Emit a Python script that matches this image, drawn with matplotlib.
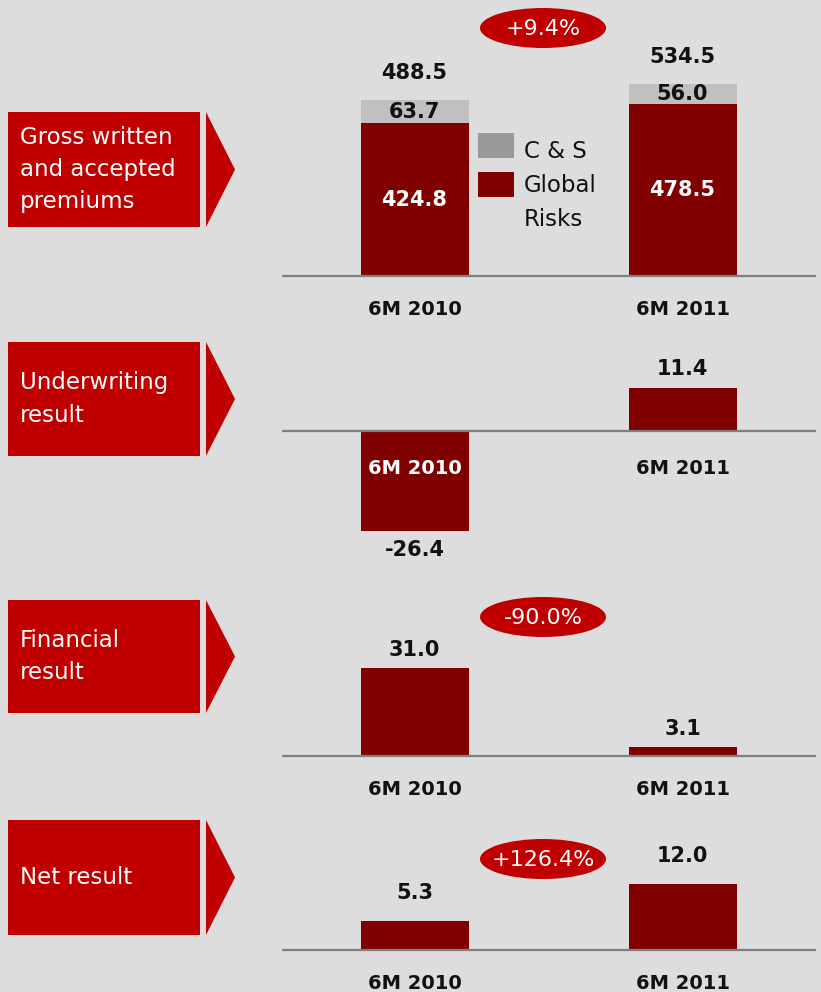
import matplotlib
matplotlib.use("Agg")
import matplotlib.pyplot as plt
from matplotlib.patches import Rectangle, Polygon, Ellipse

# data (EUR million)
periods = ["6M 2010", "6M 2011"]
global_risks = [424.8, 478.5]
c_and_s = [63.7, 56.0]
premiums_total = [488.5, 534.5]
underwriting = [-26.4, 11.4]
financial = [31.0, 3.1]
net_result = [5.3, 12.0]
changes = ["+9.4%", None, "-90.0%", "+126.4%"]
panel_titles = ["Gross written\nand accepted\npremiums", "Underwriting\nresult",
                "Financial\nresult", "Net result"]

BG = "#DDDDDD"
RED = "#C00000"
DARK = "#800000"
LIGHT = "#C0C0C0"
LEG_GREY = "#999999"
W, H = 821, 992

plt.rcParams['font.family'] = ['DejaVu Sans']
fig = plt.figure(figsize=(W / 100, H / 100), dpi=100, facecolor=BG)

# overlay for boxes and arrows, in pixel coords
ov = fig.add_axes([0, 0, 1, 1], zorder=5)
ov.set_xlim(0, W)
ov.set_ylim(H, 0)
ov.axis("off")
ov.patch.set_alpha(0)

boxes = [(112, 227), (342, 456), (600, 713), (820, 935)]
for (top, bot), title in zip(boxes, panel_titles):
    ov.add_patch(Rectangle((8, top), 192, bot - top, color=RED, lw=0))
    ov.add_patch(Polygon([(206, top), (235, (top + bot) / 2), (206, bot)],
                         closed=True, color=RED, lw=0))
    ov.text(20, (top + bot) / 2, title, color="white", fontsize=16.5,
            va="center", ha="left", linespacing=1.5)


def make_axes(top, bottom, baseline, scale):
    # pixel box -> figure fraction, data limits so baseline/scale match
    left, right = 282, 816
    ax = fig.add_axes([left / W, 1 - bottom / H, (right - left) / W, (bottom - top) / H])
    ax.set_ylim(-(bottom - baseline) / scale, (baseline - top) / scale)
    ax.set_xlim((left - 414.5) / 268, (right - 414.5) / 268)
    ax.axis("off")
    ax.patch.set_alpha(0)
    ax.axhline(0, color="#7F7F7F", lw=1.6, zorder=3)
    return ax


x = [0, 1]
bw = 108 / 268
lab = dict(fontsize=14, fontweight="bold", color="#111111", ha="center")
val = dict(fontsize=15, fontweight="bold", color="#111111", ha="center")

# panel 1: premiums
ax1 = make_axes(0, 330, 276, 0.36)
ax1.bar(x, global_risks, width=bw, color=DARK, zorder=2)
ax1.bar(x, c_and_s, bottom=global_risks, width=bw, color=LIGHT, zorder=2)
for i in x:
    ax1.text(i, global_risks[i] / 2, f"{global_risks[i]:.1f}", color="white",
             fontsize=15, fontweight="bold", ha="center", va="center")
    ax1.text(i, global_risks[i] + c_and_s[i] / 2, f"{c_and_s[i]:.1f}", color="#111111",
             fontsize=15, fontweight="bold", ha="center", va="center")
    ax1.annotate(f"{premiums_total[i]:.1f}", (i, premiums_total[i]), xytext=(0, 12),
                 textcoords="offset points", va="bottom", **val)
    ax1.annotate(periods[i], (i, 0), xytext=(0, -17), textcoords="offset points",
                 va="top", **lab)

# legend
ov.add_patch(Rectangle((478, 133), 36, 25, color=LEG_GREY, lw=0))
ov.add_patch(Rectangle((478, 172), 36, 25, color=DARK, lw=0))
ov.text(524, 152, "C & S", fontsize=16.5, va="center", color="#111111")
ov.text(524, 186, "Global", fontsize=16.5, va="center", color="#111111")
ov.text(524, 220, "Risks", fontsize=16.5, va="center", color="#111111")

# panel 2: underwriting
ax2 = make_axes(335, 590, 431, 3.8)
ax2.bar(x, underwriting, width=bw, color=DARK, zorder=2)
ax2.annotate(f"{underwriting[0]:.1f}", (0, underwriting[0]), xytext=(0, -6),
             textcoords="offset points", va="top", **val)
ax2.annotate(f"{underwriting[1]:.1f}", (1, underwriting[1]), xytext=(0, 6),
             textcoords="offset points", va="bottom", **val)
ax2.annotate(periods[0], (0, 0), xytext=(0, -20), textcoords="offset points",
             va="top", fontsize=14, fontweight="bold", color="white", ha="center")
ax2.annotate(periods[1], (1, 0), xytext=(0, -20), textcoords="offset points",
             va="top", **lab)

# panels 3 and 4
for vals, top, bot, base, sc, off in [(financial, 595, 815, 756, 2.84, 6),
                                      (net_result, 815, 992, 950, 5.5, 13)]:
    ax = make_axes(top, bot, base, sc)
    ax.bar(x, vals, width=bw, color=DARK, zorder=2)
    for i in x:
        ax.annotate(f"{vals[i]:.1f}", (i, vals[i]), xytext=(0, off),
                    textcoords="offset points", va="bottom", **val)
        ax.annotate(periods[i], (i, 0), xytext=(0, -17), textcoords="offset points",
                    va="top", **lab)

# change ellipses
for txt, cy in zip(changes, [28, None, 617, 859]):
    if txt is None:
        continue
    ov.add_patch(Ellipse((543, cy), 126, 40, color=RED, lw=0))
    ov.text(543, cy + 1, txt, color="white", fontsize=16, ha="center", va="center")

fig.savefig("out.png", dpi=100, facecolor=BG)
